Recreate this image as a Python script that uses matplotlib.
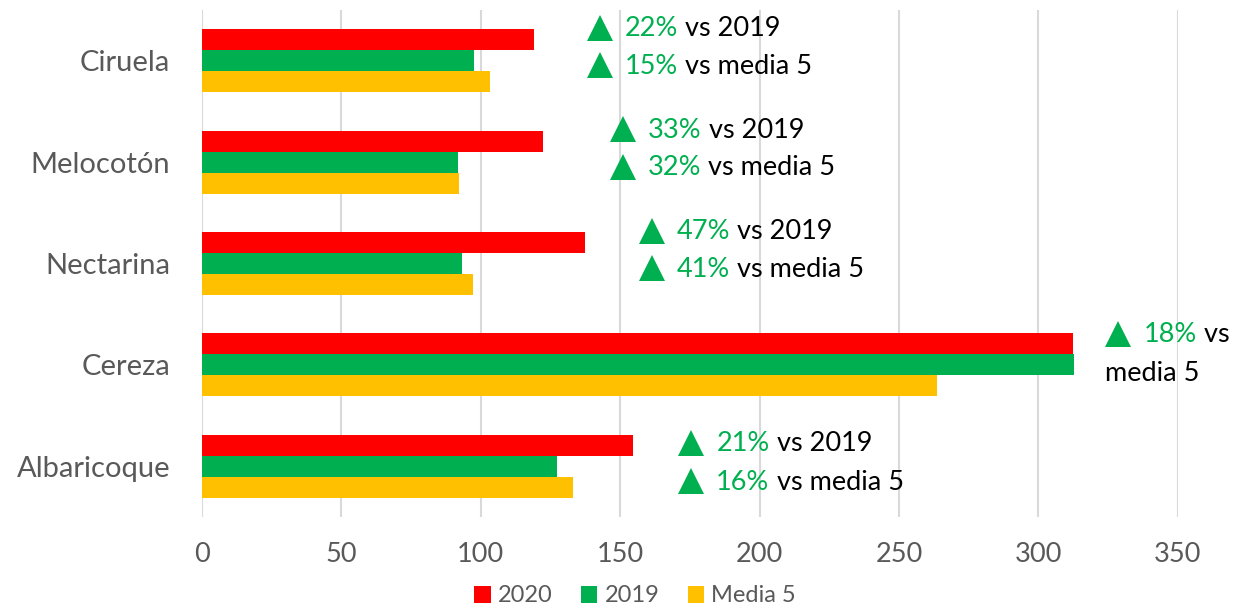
import matplotlib
matplotlib.use("Agg")
import matplotlib.pyplot as plt
import numpy as np
from matplotlib.transforms import offset_copy

plt.rcParams['font.family'] = ['Lato', 'DejaVu Sans']

frutas = ['Ciruela', 'Melocotón', 'Nectarina', 'Cereza', 'Albaricoque']
v2020 = [119.1, 122.4, 137.3, 312.3, 154.6]
v2019 = [97.4, 92.0, 93.2, 312.8, 127.5]
media5 = [103.2, 92.3, 97.1, 263.8, 133.1]

# etiquetas de variación (línea 1, línea 2) -> (verde, negro)
var_l1 = [('22%', ' vs 2019'), ('33%', ' vs 2019'), ('47%', ' vs 2019'), ('18%', ' vs'), ('21%', ' vs 2019')]
var_l2 = [('15%', ' vs media 5'), ('32%', ' vs media 5'), ('41%', ' vs media 5'), ('', 'media 5'), ('16%', ' vs media 5')]
var_x = [138.5, 146.7, 157.0, 324.4, 171.2]

ROJO = '#FF0000'
VERDE = '#00B050'
AMARILLO = '#FFC000'
GRIS = '#595959'

fig = plt.figure(figsize=(12.33, 6.06), dpi=100)
ax = fig.add_axes([202 / 1233, 1 - 517 / 606, (1177.7 - 202) / 1233, 507 / 606])

y = np.arange(len(frutas))
h = 0.207
ax.barh(y - h, v2020, height=h, color=ROJO, label='2020')
ax.barh(y, v2019, height=h, color=VERDE, label='2019')
ax.barh(y + h, media5, height=h, color=AMARILLO, label='Media 5')

ax.set_xlim(0, 350)
ax.set_ylim(4.5, -0.5)
ax.set_xticks(np.arange(0, 351, 50))
ax.set_yticks(y)
ax.set_yticklabels(frutas)
ax.tick_params(axis='both', length=0, labelcolor=GRIS)
ax.tick_params(axis='x', pad=18, labelsize=19.5)
ax.tick_params(axis='y', pad=23, labelsize=21)
ax.grid(axis='x', color='#D9D9D9', linewidth=1.5)
ax.set_axisbelow(True)
for s in ax.spines.values():
    s.set_visible(False)

fig.canvas.draw()
renderer = fig.canvas.get_renderer()


def linea(x, yy, partes, flecha=True):
    trans = ax.transData
    if flecha:
        ax.plot([x], [yy], marker='^', markersize=19, color=VERDE, clip_on=False,
                markeredgewidth=0, transform=offset_copy(trans, fig=fig, x=12, y=1, units='dots'))
        trans = offset_copy(trans, fig=fig, x=37, y=0, units='dots')
    for texto, color in partes:
        t = ax.text(x, yy, texto, color=color, fontsize=19.5, va='center', ha='left',
                    transform=trans, clip_on=False)
        ext = t.get_window_extent(renderer=renderer)
        trans = offset_copy(trans, fig=fig, x=ext.width, y=0, units='dots')


for i in range(len(frutas)):
    if i == 3:
        d1, d2 = -0.295, 0.08
    elif i == 4:
        d1, d2 = -0.22, 0.155
    else:
        d1, d2 = -0.315, 0.055
    g, n = var_l1[i]
    linea(var_x[i], i + d1, [(g, VERDE), (n, 'black')])
    g, n = var_l2[i]
    if g:
        linea(var_x[i], i + d2, [(g, VERDE), (n, 'black')])
    else:
        linea(var_x[i] - 0.6, i + d2, [(n, 'black')], flecha=False)

fig.legend(loc='center', bbox_to_anchor=(0.515, 1 - 596 / 606), ncol=3, frameon=False,
           fontsize=17, labelcolor=GRIS, handlelength=0.7, handleheight=0.7,
           handletextpad=0.3, columnspacing=1.2)

fig.savefig('out.png', dpi=100)
